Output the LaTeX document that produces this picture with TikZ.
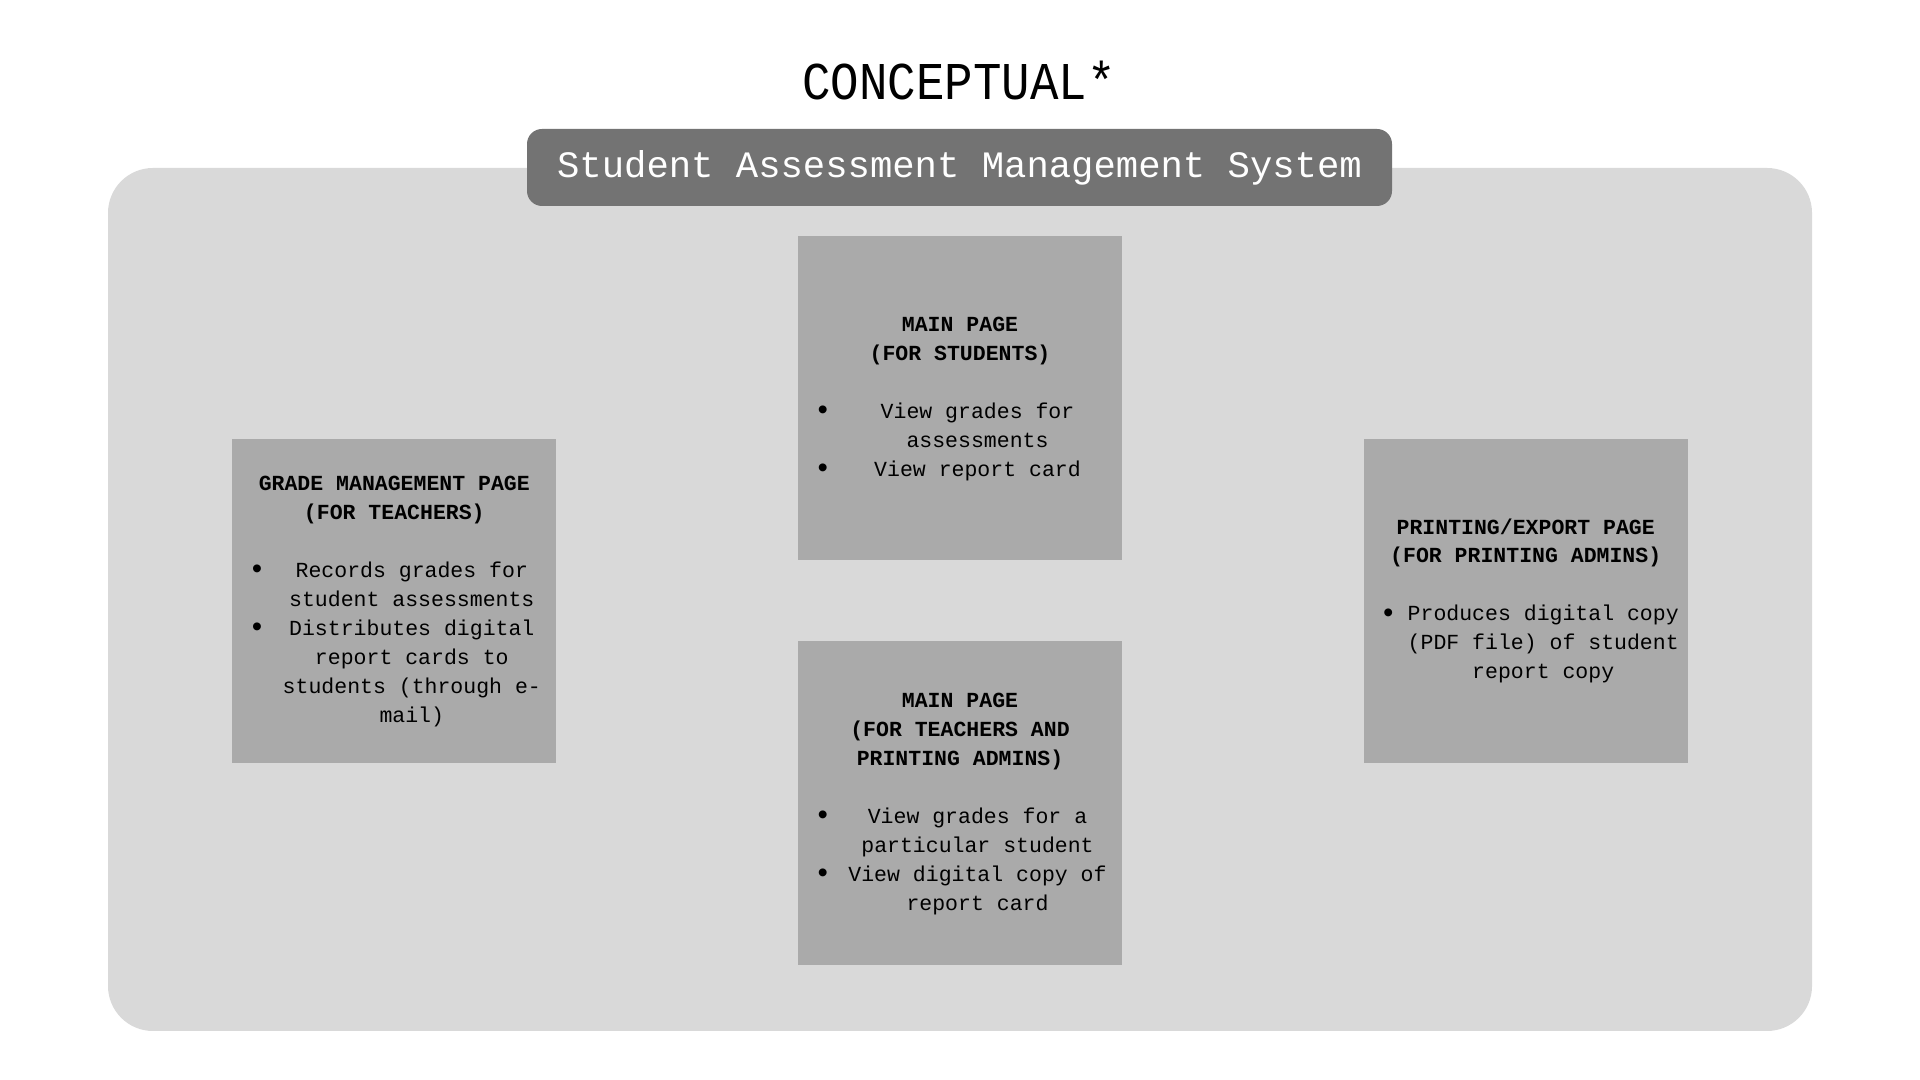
\documentclass[tikz,border=0pt]{standalone}
\usepackage{fontspec}
\setmainfont{Liberation Mono}
\usepackage{array}
\usetikzlibrary{positioning}
\definecolor{panelgray}{HTML}{D9D9D9}
\definecolor{headgray}{HTML}{737373}
\definecolor{pagegray}{HTML}{AAAAAA}
\newcolumntype{C}[1]{>{\centering\arraybackslash}p{#1}}
\newcommand{\bigbullet}{\raisebox{-0.1ex}{\scalebox{1.35}{\textbullet}}}
\tikzset{
  titletext/.style={font=\fontsize{13.5pt}{16pt}\selectfont, text=black},
  header/.style={rectangle, rounded corners=0.15cm, fill=headgray, text=white, minimum width=8.65cm, minimum height=0.77cm, inner sep=0pt, font=\fontsize{10.6pt}{12pt}\selectfont},
  pagebox/.style={rectangle, fill=pagegray, minimum width=3.24cm, minimum height=3.24cm, inner sep=0pt, align=center, font=\fontsize{6.12pt}{8.25pt}\selectfont},
}
\begin{document}
\begin{tikzpicture}
  \useasboundingbox[fill=white] (0,0) rectangle (19.2,10.8);
  \fill[panelgray, rounded corners=0.45cm] (1.08,0.49) rectangle (18.12,9.12);
  \node[titletext] (title) at (9.59,9.99) {\scalebox{1}[1.12]{CONCEPTUAL*}};
  \node[header] (head) at (9.595,9.125) {Student Assessment Management System};
  % the four pages
  \node[pagebox] (stud) at (9.6,6.82) {%
    \begin{tabular}{@{\hspace{0.115cm}}p{0.235cm}@{}C{2.8cm}@{}}
    \multicolumn{2}{@{}c@{}}{\bfseries MAIN PAGE}\\
    \multicolumn{2}{@{}c@{}}{\bfseries (FOR STUDENTS)}\\[8.25pt]
    \bigbullet & View grades for\par assessments\\
    \bigbullet & View report card
    \end{tabular}};
  \node[pagebox, below=0.8cm of stud] (teach) {%
    \begin{tabular}{@{\hspace{0.115cm}}p{0.235cm}@{}C{2.8cm}@{}}
    \multicolumn{2}{@{}c@{}}{\bfseries MAIN PAGE}\\
    \multicolumn{2}{@{}c@{}}{\bfseries (FOR TEACHERS AND}\\
    \multicolumn{2}{@{}c@{}}{\bfseries PRINTING ADMINS)}\\[8.25pt]
    \bigbullet & View grades for a\par particular student\\
    \bigbullet & View digital copy of\par report card
    \end{tabular}};
  \path (stud) -- (teach) coordinate[midway] (mid);
  \node[pagebox, left=4.03cm of mid] (grade) {%
    \begin{tabular}{@{\hspace{0.115cm}}p{0.235cm}@{}C{2.8cm}@{}}
    \multicolumn{2}{@{}c@{}}{\bfseries GRADE MANAGEMENT PAGE}\\
    \multicolumn{2}{@{}c@{}}{\bfseries (FOR TEACHERS)}\\[8.25pt]
    \bigbullet & Records grades for\par student assessments\\
    \bigbullet & Distributes digital\par report cards to\par students (through e-\par mail)
    \end{tabular}};
  \node[pagebox, right=4.03cm of mid] (print) {%
    \begin{tabular}{@{\hspace{0.115cm}}p{0.235cm}@{}C{2.8cm}@{}}
    \multicolumn{2}{@{}c@{}}{\bfseries PRINTING/EXPORT PAGE}\\
    \multicolumn{2}{@{}c@{}}{\bfseries (FOR PRINTING ADMINS)}\\[8.25pt]
    \bigbullet & Produces digital copy\par (PDF file) of student\par report copy
    \end{tabular}};
\end{tikzpicture}
\end{document}
